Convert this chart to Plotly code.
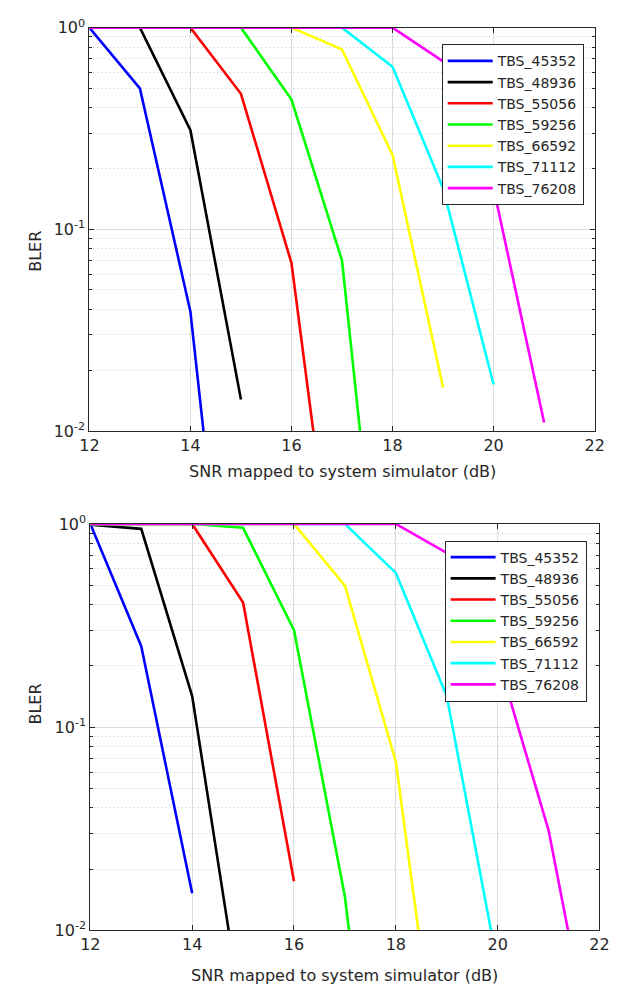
import plotly.graph_objects as go

names = ["TBS_45352", "TBS_48936", "TBS_55056", "TBS_59256", "TBS_66592", "TBS_71112", "TBS_76208"]
colors = ["#0000FF", "#000000", "#FF0000", "#00FF00", "#FFFF00", "#00FFFF", "#FF00FF"]

# Top panel data (SNR dB, BLER)
top_x_45352 = [12, 13, 14, 15]
top_y_45352 = [1.0, 0.50, 0.039, 0.0002]
top_x_48936 = [12, 13, 14, 15]
top_y_48936 = [1.0, 1.0, 0.31, 0.0143]
top_x_55056 = [12, 13, 14, 15, 16, 17]
top_y_55056 = [1.0, 1.0, 1.0, 0.47, 0.068, 0.0008]
top_x_59256 = [12, 13, 14, 15, 16, 17, 18]
top_y_59256 = [1.0, 1.0, 1.0, 1.0, 0.44, 0.070, 0.0003]
top_x_66592 = [12, 13, 14, 15, 16, 17, 18, 19]
top_y_66592 = [1.0, 1.0, 1.0, 1.0, 1.0, 0.78, 0.234, 0.0164]
top_x_71112 = [12, 13, 14, 15, 16, 17, 18, 19, 20]
top_y_71112 = [1.0, 1.0, 1.0, 1.0, 1.0, 1.0, 0.64, 0.16, 0.017]
top_x_76208 = [12, 13, 14, 15, 16, 17, 18, 19, 20, 21]
top_y_76208 = [1.0, 1.0, 1.0, 1.0, 1.0, 1.0, 1.0, 0.68, 0.16, 0.011]

# Bottom panel data
bot_x_45352 = [12, 13, 14]
bot_y_45352 = [1.0, 0.25, 0.0152]
bot_x_48936 = [12, 13, 14, 15]
bot_y_48936 = [0.99, 0.946, 0.142, 0.0035]
bot_x_55056 = [12, 13, 14, 15, 16]
bot_y_55056 = [1.0, 1.0, 1.0, 0.41, 0.0174]
bot_x_59256 = [12, 13, 14, 15, 16, 17, 18]
bot_y_59256 = [1.0, 1.0, 1.0, 0.957, 0.30, 0.0146, 0.00013]
bot_x_66592 = [12, 13, 14, 15, 16, 17, 18, 19]
bot_y_66592 = [1.0, 1.0, 1.0, 1.0, 1.0, 0.497, 0.0675, 0.0009]
bot_x_71112 = [12, 13, 14, 15, 16, 17, 18, 19, 20]
bot_y_71112 = [1.0, 1.0, 1.0, 1.0, 1.0, 1.0, 0.574, 0.142, 0.0067]
bot_x_76208 = [12, 13, 14, 15, 16, 17, 18, 19, 20, 21, 22]
bot_y_76208 = [1.0, 1.0, 1.0, 1.0, 1.0, 1.0, 1.0, 0.72, 0.22, 0.031, 0.0016]

x_ticks = [12, 14, 16, 18, 20, 22]
y_ticks = [0.01, 0.1, 1]
y_ticktext = ["10<sup>-2</sup>", "10<sup>-1</sup>", "10<sup>0</sup>"]
x_title = "SNR mapped to system simulator (dB)"
y_title = "BLER"

top_series = [(top_x_45352, top_y_45352), (top_x_48936, top_y_48936), (top_x_55056, top_y_55056),
              (top_x_59256, top_y_59256), (top_x_66592, top_y_66592), (top_x_71112, top_y_71112),
              (top_x_76208, top_y_76208)]
bot_series = [(bot_x_45352, bot_y_45352), (bot_x_48936, bot_y_48936), (bot_x_55056, bot_y_55056),
              (bot_x_59256, bot_y_59256), (bot_x_66592, bot_y_66592), (bot_x_71112, bot_y_71112),
              (bot_x_76208, bot_y_76208)]

W, H = 624, 994
FONT = "DejaVu Sans"
AX = "#262626"
GRID = "#dcdcdc"

fig = go.Figure()
for (xs, ys), n, c in zip(top_series, names, colors):
    fig.add_trace(go.Scatter(x=xs, y=ys, mode="lines", name=n, line=dict(color=c, width=2.6),
                             xaxis="x", yaxis="y", legend="legend"))
for (xs, ys), n, c in zip(bot_series, names, colors):
    fig.add_trace(go.Scatter(x=xs, y=ys, mode="lines", name=n, line=dict(color=c, width=2.6),
                             xaxis="x2", yaxis="y2", legend="legend2"))

minor_vals = [m * 10 ** e for e in (-2, -1) for m in range(2, 10)]

def xaxis(domain, anchor):
    return dict(domain=domain, anchor=anchor, range=[12, 22], tickvals=x_ticks,
                showgrid=True, gridcolor=GRID, gridwidth=1, zeroline=False,
                showline=True, linecolor=AX, linewidth=1, mirror="ticks",
                ticks="inside", ticklen=5, tickcolor=AX,
                tickfont=dict(family=FONT, size=16, color=AX))

def yaxis(domain, anchor):
    return dict(domain=domain, anchor=anchor, type="log", range=[-2, 0],
                tickvals=y_ticks, ticktext=y_ticktext,
                showgrid=True, gridcolor=GRID, gridwidth=1, zeroline=False,
                showline=True, linecolor=AX, linewidth=1, mirror="ticks",
                ticks="inside", ticklen=5, tickcolor=AX,
                tickfont=dict(family=FONT, size=16, color=AX),
                minor=dict(tickvals=minor_vals, showgrid=True, gridcolor="#c8c8c8",
                           griddash="1px,3px", ticks="inside", ticklen=3, tickcolor=AX))

t_top, t_bot = 1 - 17 / H, 1 - 429 / H
b_top, b_bot = 1 - 524 / H, 1 - 939 / H

legend_style = dict(bgcolor="white", bordercolor=AX, borderwidth=1,
                    font=dict(family=FONT, size=14, color=AX),
                    xanchor="left", yanchor="top", tracegroupgap=0, itemwidth=45)

fig.update_layout(
    width=W, height=H, margin=dict(l=0, r=0, t=0, b=0),
    paper_bgcolor="white", plot_bgcolor="white",
    xaxis=xaxis([82 / W, 604 / W], "y"),
    yaxis=yaxis([t_bot, t_top], "x"),
    xaxis2=xaxis([83 / W, 609 / W], "y2"),
    yaxis2=yaxis([b_bot, b_top], "x2"),
    legend=dict(x=446 / W, y=1 - 34 / H, **legend_style),
    legend2=dict(x=449 / W, y=1 - 541 / H, **legend_style),
    annotations=[
        dict(text=x_title, x=(82 + 604) / 2 / W, y=1 - 470 / H, xref="paper", yref="paper",
             showarrow=False, font=dict(family=FONT, size=16, color=AX), yanchor="middle"),
        dict(text=x_title, x=(83 + 609) / 2 / W, y=1 - 985 / H, xref="paper", yref="paper",
             showarrow=False, font=dict(family=FONT, size=16, color=AX), yanchor="middle"),
        dict(text=y_title, x=15 / W, y=(t_top + t_bot) / 2, xref="paper", yref="paper",
             showarrow=False, textangle=-90, font=dict(family=FONT, size=16, color=AX)),
        dict(text=y_title, x=15 / W, y=(b_top + b_bot) / 2, xref="paper", yref="paper",
             showarrow=False, textangle=-90, font=dict(family=FONT, size=16, color=AX)),
    ],
)

fig.write_html("out.html")
